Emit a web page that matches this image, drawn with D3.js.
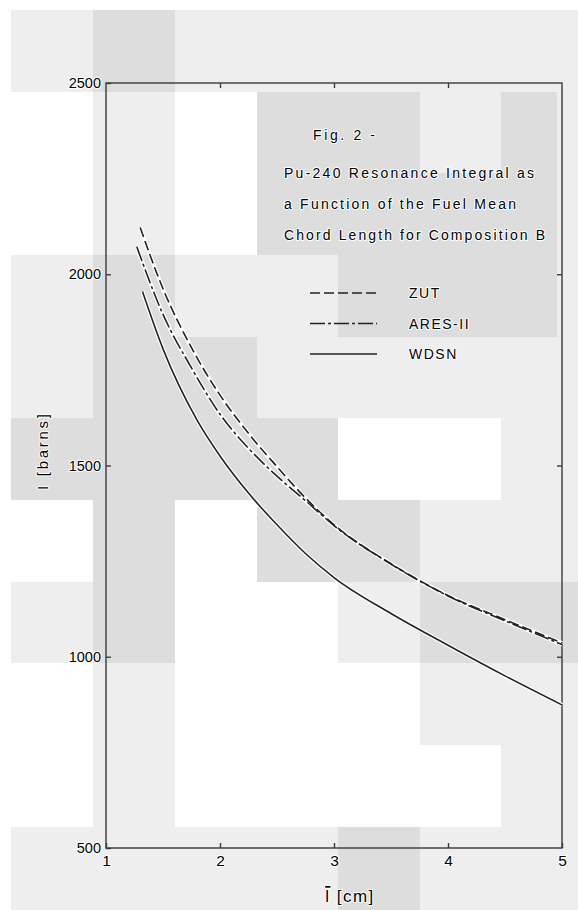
<!DOCTYPE html>
<html>
<head>
<meta charset="utf-8">
<script src="https://cdn.jsdelivr.net/npm/d3@7"></script>
<style>
  body { margin: 0; background: #fff; }
  text { font-family: "Liberation Sans", Arial, sans-serif; fill: #000;
         paint-order: stroke; stroke: #fff; stroke-width: 2px; stroke-linejoin: round; }
  .frame, .tick line { stroke: #3a3a3a; stroke-width: 1.4; fill: none; }
  .halo { fill: none; stroke: #fff; stroke-width: 4; }
  .curve { fill: none; stroke: #222; stroke-width: 1.6; }
</style>
</head>
<body>
<div id="chart"></div>
<script>
var width = 578, height = 910;

// values: mean chord length (cm) vs resonance integral (barns)
var zutX  = [1.3, 1.5, 1.75, 2.0, 2.25, 2.5, 2.75, 3.0, 3.5, 4.0, 4.5, 5.0];
var zutI  = [2122, 1962, 1808, 1684, 1584, 1497, 1415, 1345, 1243, 1160, 1097, 1036];
var aresX = [1.27, 1.5, 1.75, 2.0, 2.25, 2.5, 2.75, 3.0, 3.5, 4.0, 4.5, 5.0];
var aresI = [2072, 1895, 1755, 1634, 1545, 1472, 1408, 1343, 1242, 1159, 1094, 1032];
var wdsnX = [1.32, 1.5, 1.8, 2.0, 2.25, 2.5, 2.75, 3.0, 3.5, 4.0, 4.5, 5.0];
var wdsnI = [1955, 1805, 1618, 1525, 1428, 1345, 1270, 1207, 1113, 1030, 950, 874];

var seriesNames = ["ZUT", "ARES-II", "WDSN"];
var xTicks = [1, 2, 3, 4, 5];
var yTicks = [500, 1000, 1500, 2000, 2500];
var figLabel = "Fig. 2 -";
var titleLines = ["Pu-240 Resonance Integral as",
                  "a Function of the Fuel Mean",
                  "Chord Length for Composition B"];

var series = [
  {name: seriesNames[0], dash: "10,4", pts: d3.zip(zutX, zutI)},
  {name: seriesNames[1], dash: "15,3,3,3", pts: d3.zip(aresX, aresI)},
  {name: seriesNames[2], dash: null, pts: d3.zip(wdsnX, wdsnI)}
];

var svg = d3.select("#chart").append("svg")
  .attr("width", width)
  .attr("height", height);

// scanned-paper background blocks (L light, D darker, W white)
var colEdges = [11, 93, 175, 257, 338, 420, 501, 557, 578];
var rowEdges = [10, 92, 173, 255, 337, 418, 500, 582, 663, 745, 827, 910];
var bgRows = ["LDLLLLLL", "WLWDDLDL", "WLWDDDDL", "LDLLDDDL", "LDDLLLLL", "DDDDWWLL",
              "WDWDDLLL", "LDWWLDDD", "WLWWWLLL", "WLWWWWLL", "LLLLDLLL"];
var shade = {L: "#eeeeee", D: "#dddddd", W: "#ffffff"};
bgRows.forEach(function(row, r) {
  row.split("").forEach(function(c, i) {
    svg.append("rect")
      .attr("x", colEdges[i]).attr("y", rowEdges[r])
      .attr("width", colEdges[i + 1] - colEdges[i])
      .attr("height", rowEdges[r + 1] - rowEdges[r])
      .attr("fill", shade[c]);
  });
});

var x = d3.scaleLinear().domain([1, 5]).range([106, 562]);
var y = d3.scaleLinear().domain([500, 2500]).range([848, 83]);

// frame
svg.append("rect")
  .attr("class", "frame")
  .attr("x", x(1)).attr("y", y(2500))
  .attr("width", x(5) - x(1)).attr("height", y(500) - y(2500));

function cleanAxis(g) { g.select(".domain").remove(); }

svg.append("g")
  .attr("transform", "translate(" + x(1) + ",0)")
  .call(d3.axisLeft(y).tickValues(yTicks).tickSize(-5).tickPadding(5)
    .tickFormat(d3.format("d")))
  .call(cleanAxis)
  .selectAll("text")
    .style("font-size", "14.5px");

svg.append("g")
  .attr("transform", "translate(" + x(5) + ",0)")
  .call(d3.axisRight(y).tickValues([1000, 1500, 2000]).tickSize(-5).tickFormat(""))
  .call(cleanAxis);

svg.append("g")
  .attr("transform", "translate(0," + y(500) + ")")
  .call(d3.axisBottom(x).tickValues(xTicks).tickSize(-5).tickPadding(7)
    .tickFormat(d3.format("d")))
  .call(cleanAxis)
  .selectAll("text")
    .style("font-size", "15.5px");

svg.append("g")
  .attr("transform", "translate(0," + y(2500) + ")")
  .call(d3.axisTop(x).tickValues([2, 3, 4]).tickSize(-5).tickFormat(""))
  .call(cleanAxis);

svg.selectAll(".tick text").attr("fill", "#000");

// axis titles
svg.append("text")
  .attr("transform", "translate(48,452) rotate(-90)")
  .attr("text-anchor", "middle")
  .style("font-size", "15px")
  .attr("textLength", 76)
  .text("I [barns]");

var xt = svg.append("text")
  .attr("x", 350).attr("y", 902)
  .attr("text-anchor", "middle")
  .style("font-size", "17px")
  .style("letter-spacing", "1.5px");
xt.append("tspan").style("text-decoration", "overline").text("l");
xt.append("tspan").text(" [cm]");

// curves
var line = d3.line()
  .x(function(d) { return x(d[0]); })
  .y(function(d) { return y(d[1]); })
  .curve(d3.curveMonotoneX);

svg.selectAll(".halo")
  .data(series)
  .enter().append("path")
    .attr("class", "halo")
    .attr("d", function(d) { return line(d.pts); });

svg.selectAll(".curve")
  .data(series)
  .enter().append("path")
    .attr("class", "curve")
    .attr("stroke-dasharray", function(d) { return d.dash; })
    .attr("d", function(d) { return line(d.pts); });

// caption
svg.append("text")
  .attr("x", 313).attr("y", 140)
  .style("font-size", "14px")
  .attr("textLength", 62)
  .text(figLabel);

svg.selectAll(".title")
  .data(titleLines)
  .enter().append("text")
    .attr("class", "title")
    .attr("x", 284)
    .attr("y", function(d, i) { return 178 + i * 31; })
    .style("font-size", "14px")
    .attr("textLength", function(d, i) { return [250, 232, 261][i]; })
    .attr("lengthAdjust", "spacing")
    .text(function(d) { return d; });

// legend
var legend = svg.selectAll(".legend")
  .data(series)
  .enter().append("g")
    .attr("class", "legend")
    .attr("transform", function(d, i) { return "translate(310," + (293 + i * 30.5) + ")"; });

legend.append("line")
  .attr("class", "curve")
  .attr("x1", 0).attr("x2", 67)
  .attr("stroke-dasharray", function(d) { return d.dash; });

legend.append("text")
  .attr("x", 99).attr("dy", "0.36em")
  .style("font-size", "14px")
  .style("letter-spacing", "1.5px")
  .text(function(d) { return d.name; });
</script>
</body>
</html>
